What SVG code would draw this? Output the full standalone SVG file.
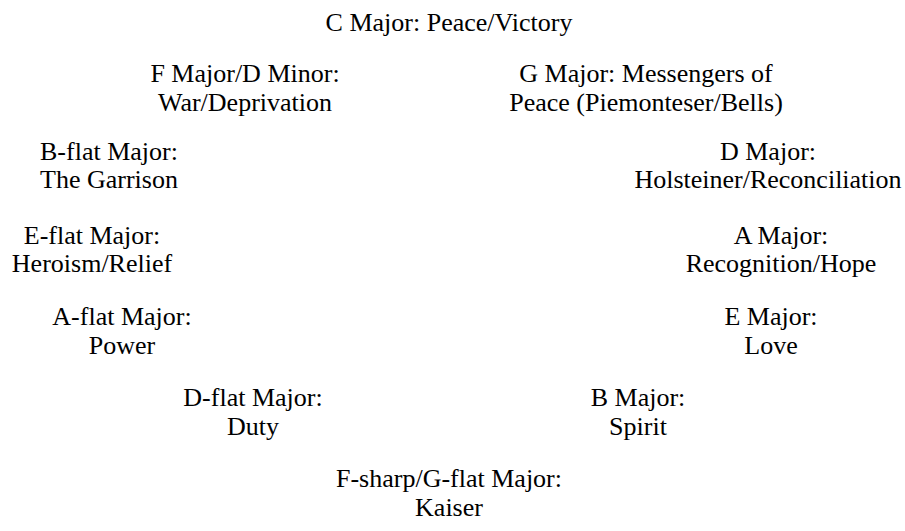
<svg xmlns="http://www.w3.org/2000/svg" width="905" height="531" viewBox="0 0 905 531">
<style>
text{font-size:26px;fill:#000;text-anchor:middle}
</style>
<rect width="905" height="531" fill="#fff"/>
<g font-family="'Liberation Serif', 'Times New Roman', 'DejaVu Serif', serif">
<g id="c"><text x="449" y="31">C Major: Peace/Victory</text></g>
<g id="f"><text x="245" y="82">F Major/D Minor:</text><text x="245" y="111">War/Deprivation</text></g>
<g id="g"><text x="646" y="82">G Major: Messengers of</text><text x="646" y="111">Peace (Piemonteser/Bells)</text></g>
<g id="bb"><text x="109" y="160">B-flat Major:</text><text x="109" y="188">The Garrison</text></g>
<g id="d"><text x="768" y="160">D Major:</text><text x="768" y="188">Holsteiner/Reconciliation</text></g>
<g id="eb"><text x="92" y="244">E-flat Major:</text><text x="92" y="272">Heroism/Relief</text></g>
<g id="a"><text x="781" y="244">A Major:</text><text x="781" y="272">Recognition/Hope</text></g>
<g id="ab"><text x="122" y="325">A-flat Major:</text><text x="122" y="354">Power</text></g>
<g id="e"><text x="771" y="325">E Major:</text><text x="771" y="354">Love</text></g>
<g id="db"><text x="253" y="406">D-flat Major:</text><text x="253" y="435">Duty</text></g>
<g id="b"><text x="638" y="406">B Major:</text><text x="638" y="435">Spirit</text></g>
<g id="fs"><text x="449" y="487">F-sharp/G-flat Major:</text><text x="449" y="516">Kaiser</text></g>
</g>
</svg>
